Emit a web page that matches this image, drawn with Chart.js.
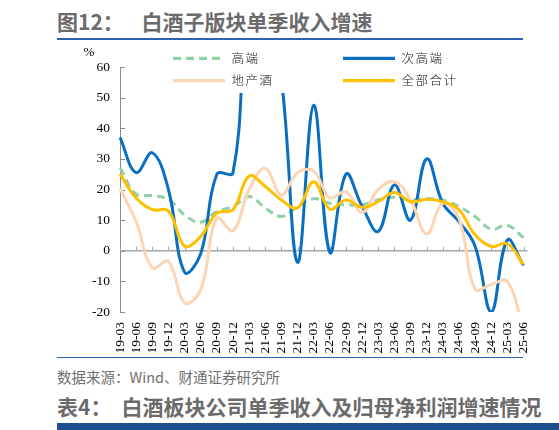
<!DOCTYPE html>
<html><head><meta charset="utf-8">
<script src="https://cdn.jsdelivr.net/npm/chart.js@4.4.1/dist/chart.umd.min.js"></script>
<style>
html,body{margin:0;padding:0;background:#fff;width:559px;height:430px;overflow:hidden;position:relative;font-family:"Noto Sans CJK SC",sans-serif}
.t{position:absolute;white-space:nowrap;font-weight:bold;color:#6b6b6b;font-size:21px;line-height:21px}
.s{position:absolute;white-space:nowrap;color:#6f6f6f;font-size:14.5px;line-height:15px}
.rule{position:absolute;left:57px;width:466px;height:1.5px;background:#2d62ad}
</style></head><body>
<div class="t" style="left:57px;top:11px">图12：</div>
<div class="t" style="left:141.5px;top:11px">白酒子版块单季收入增速</div>
<div class="rule" style="top:38px"></div>
<canvas id="c" width="559" height="317" style="position:absolute;left:0;top:40px;width:559px;height:317px"></canvas>
<div class="rule" style="top:356.5px"></div>
<div class="s" style="left:57px;top:368.5px">数据来源：Wind、财通证券研究所</div>
<div class="t" style="left:57px;top:396px">表4：</div>
<div class="t" style="left:121.5px;top:396px">白酒板块公司单季收入及归母净利润增速情况</div>
<div style="position:absolute;left:57px;top:423px;right:0;height:7px;background:#1f4f8f"></div>
<script>
const categories = ['19-03','19-06','19-09','19-12','20-03','20-06','20-09','20-12','21-03','21-06','21-09','21-12','22-03','22-06','22-09','22-12','23-03','23-06','23-09','23-12','24-03','24-06','24-09','24-12','25-03','25-06'];
const seriesNames = ['高端','次高端','地产酒','全部合计'];
const highEnd    = [27, 18.5, 18, 16.8, 11.7, 9.3, 12.8, 14.4, 17.7, 14, 11.2, 14.4, 17, 15.5, 15, 15, 16.6, 17.5, 16.6, 17, 16.5, 14.4, 11.2, 7, 8.3, 4.3];
const subHighEnd = [37, 25.5, 32, 20, -7, -1, 25, 25.5, 78, 80, 56, -3.8, 47.5, -0.5, 25, 14.5, 6.3, 21.5, 10, 30, 15.5, 9.5, 1.5, -20, 3.5, -4.8];
const regional   = [20.4, 9.5, -5.5, -3.5, -17, -12.7, 10.6, 6.5, 20, 26.9, 18.2, 25.5, 26, 17.3, 19.3, 12.5, 20, 22.6, 16.6, 5.5, 15.5, 10.5, -12.5, -11, -10, -26];
const total      = [25, 17.2, 13.4, 13, 1.5, 4.7, 12.3, 13.4, 24.4, 21, 16.6, 14, 22.5, 13.6, 16.6, 14.2, 16, 19, 16, 16.8, 16, 13.4, 5.2, 1.4, 2.3, -4.5];
const yMin = -20, yMax = 60, yStep = 10;

const colors = ['#8ed1a5','#0b6fc1','#fcd5b5','#ffc000'];
const dashes = [[8,5],[],[],[]];
const seriesData = [highEnd, subHighEnd, regional, total];
const drawOrder = [3,2,1,0];

const PAGE_TOP = 40;
const legendPos = [[173,58.3],[343,58.3],[173,80.7],[343,80.7]];

const deco = {
  id:'deco',
  beforeDatasetsDraw(chart){
    const {ctx, chartArea:a, scales:{x,y}} = chart;
    ctx.save();
    ctx.strokeStyle='#8c8c8c'; ctx.lineWidth=1;
    y.ticks.forEach(t=>{
      const py = Math.round(y.getPixelForValue(t.value))+0.5;
      ctx.beginPath(); ctx.moveTo(a.left, py); ctx.lineTo(a.left+5, py); ctx.stroke();
    });
    const z = y.getPixelForValue(0);
    ctx.strokeStyle='#a6a6a6'; ctx.lineWidth=1.5;
    ctx.beginPath(); ctx.moveTo(a.left, z); ctx.lineTo(a.right+4, z); ctx.stroke();
    ctx.lineWidth=1;
    categories.forEach((c,i)=>{
      const px = Math.round(x.getPixelForValue(i))+0.5;
      ctx.beginPath(); ctx.moveTo(px, z); ctx.lineTo(px, z-4); ctx.stroke();
    });
    ctx.fillStyle='#000'; ctx.font='13px "Liberation Serif"'; ctx.textAlign='center'; ctx.textBaseline='middle';
    ctx.fillText('%', 89, 52.5-PAGE_TOP);
    ctx.restore();
  },
  afterDatasetsDraw(chart){
    const {ctx} = chart;
    ctx.save();
    ctx.fillStyle='#fff';
    ctx.fillRect(160, 44-PAGE_TOP, 310, 49);
    chart.data.datasets.forEach((ds,i)=>{
      const [lx,ly] = legendPos[i];
      const yy = ly-PAGE_TOP;
      ctx.strokeStyle = ds.borderColor; ctx.lineWidth=3.3; ctx.setLineDash(ds.borderDash||[]);
      ctx.beginPath(); ctx.moveTo(lx, yy); ctx.lineTo(lx+52, yy); ctx.stroke();
      ctx.setLineDash([]);
      ctx.fillStyle='#111'; ctx.font='300 12.5px "Noto Sans CJK SC"';
      ctx.textAlign='left'; ctx.textBaseline='middle';
      try{ ctx.letterSpacing='1.5px'; }catch(e){}
      ctx.fillText(ds.label, lx+58.5, yy);
    });
    ctx.restore();
  }
};

new Chart(document.getElementById('c'), {
  type:'line',
  data:{
    labels: categories,
    datasets: seriesData.map((d,i)=>({
      label: seriesNames[i], data: d,
      borderColor: colors[i], backgroundColor: colors[i],
      borderWidth: 3, borderDash: dashes[i], pointRadius: 0, tension: 0.4,
      fill:false, order: drawOrder[i]
    }))
  },
  options:{
    responsive:false, animation:false,
    layout:{padding:{top:27, right:35.5, bottom:0, left:0}},
    plugins:{legend:{display:false}, tooltip:{enabled:false}},
    scales:{
      x:{
        offset:false,
        grid:{display:false, drawTicks:false}, border:{display:false},
        ticks:{autoSkip:false, minRotation:90, maxRotation:90, padding:10, color:'#000', font:{family:'Liberation Serif', size:13.5}},
        afterFit(s){ s.height = 45; }
      },
      y:{
        min:yMin, max:yMax,
        grid:{display:false, drawTicks:false}, border:{display:true, color:'#8c8c8c', width:1},
        ticks:{stepSize:yStep, padding:10, color:'#000', font:{family:'Liberation Serif', size:13.5}},
        afterFit(s){ s.width = 120; }
      }
    }
  },
  plugins:[deco]
});
</script>
</body></html>
